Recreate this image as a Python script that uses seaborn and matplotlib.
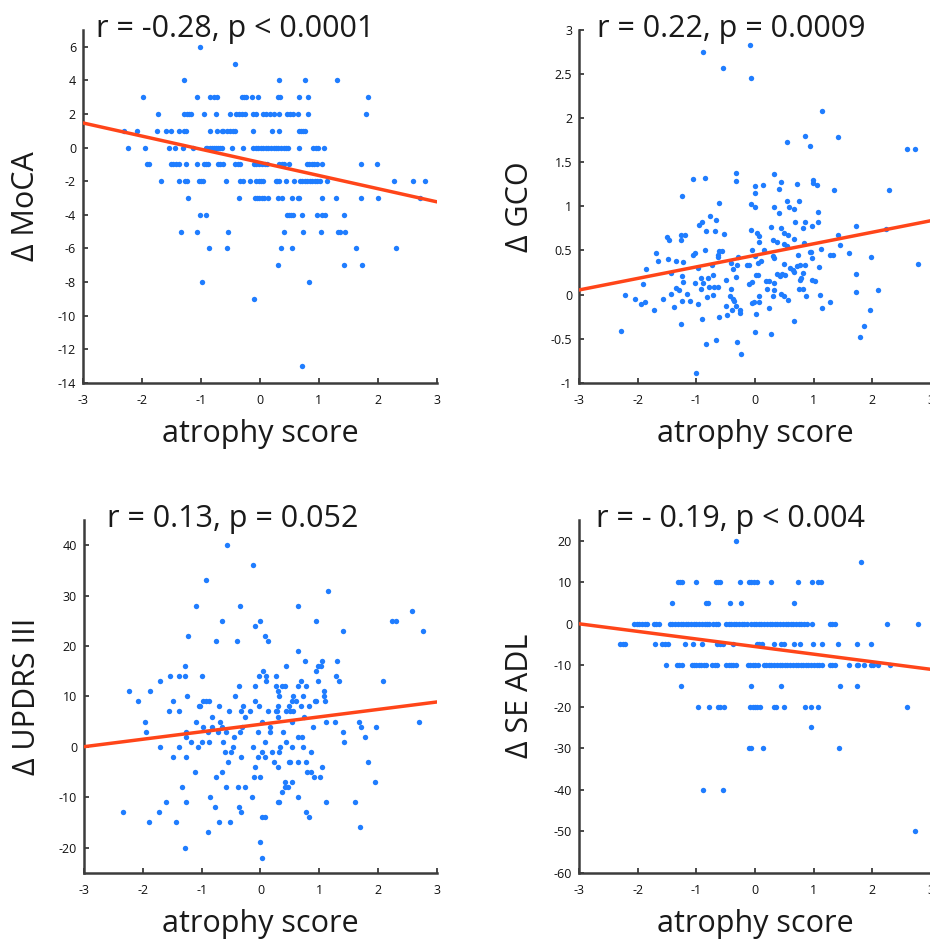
import numpy as np
import matplotlib
matplotlib.use("Agg")
import matplotlib.pyplot as plt
import seaborn as sns

# ---------------------------------------------------------------------------
# Data
# ---------------------------------------------------------------------------

# Delta MoCA: integer outcome, atrophy score per level
moca_levels = [6, 5, 4, 3, 2, 1, 0, -1, -2, -3, -4, -5, -6, -7, -8, -9, -13]
moca_x_by_level = [
    [-1.02],
    [-0.43],
    [-1.28, 0.32, 0.77, 1.31],
    [-1.98, -1.06, -0.84, -0.78, -0.73, -0.31, -0.27, -0.23, -0.13, -0.04,
     0.31, 0.34, 0.66, 0.81, 1.84],
    [-1.72, -1.29, -1.24, -1.20, -1.17, -0.94, -0.74, -0.51, -0.40, -0.35,
     -0.31, -0.25, -0.11, -0.06, 0.06, 0.11, 0.17, 0.23, 0.33, 0.46, 0.51,
     0.56, 0.64, 0.81, 1.79],
    [-2.31, -2.09, -1.74, -1.60, -1.50, -1.38, -1.29, -1.26, -0.85, -0.72,
     -0.64, -0.62, -0.56, -0.51, -0.45, -0.42, -0.11, 0.20, 0.33, 0.66, 0.69,
     0.73, 0.77],
    [-2.24, -1.94, -1.54, -1.44, -1.31, -1.14, -0.92, -0.89, -0.85, -0.82,
     -0.78, -0.75, -0.71, -0.67, -0.64, -0.47, -0.29, -0.11, -0.07, -0.03,
     0.01, 0.06, 0.10, 0.14, 0.18, 0.23, 0.27, 0.31, 0.36, 0.40, 0.44, 0.48,
     0.66, 0.90, 0.95, 0.99, 1.09],
    [-1.92, -1.88, -1.51, -1.47, -1.42, -1.38, -1.25, -1.07, -0.94, -0.91,
     -0.88, -0.71, -0.67, -0.63, -0.42, -0.38, -0.34, -0.10, -0.06, -0.01,
     0.03, 0.08, 0.12, 0.33, 0.37, 0.40, 0.49, 0.80, 0.84, 0.88, 0.92, 0.96,
     1.06, 1.71, 1.98],
    [-1.68, -1.37, -1.27, -1.24, -1.04, -1.00, -0.97, -0.57, -0.33, -0.29,
     -0.17, -0.06, -0.02, 0.02, 0.06, 0.27, 0.29, 0.33, 0.44, 0.58, 0.68,
     0.72, 0.76, 0.80, 0.85, 0.89, 0.93, 0.97, 1.02, 1.14, 2.27, 2.60, 2.79],
    [-1.22, -0.35, -0.08, -0.05, -0.01, 0.03, 0.07, 0.13, 0.31, 0.38, 0.55,
     0.65, 0.67, 1.06, 1.29, 1.71, 2.00, 2.72],
    [-1.01, -0.92, 0.46, 0.50, 0.53, 0.56, 0.72, 0.97, 1.05, 1.10, 1.42],
    [-1.33, -1.07, -0.54, 0.41, 0.73, 1.03, 1.32, 1.36, 1.44],
    [-0.87, -0.56, 0.36, 0.55, 1.62, 2.31],
    [0.31, 1.42, 1.73],
    [-0.98, 0.84],
    [-0.10],
    [0.72],
]
moca_fit = (-0.88, -0.783)   # intercept, slope of the drawn line

# Delta GCO: continuous outcome
gco_x = [
    -0.88, -0.55, -0.08, -0.07, 1.14, 0.85, 1.42, 0.54, 0.94, 2.59,
    2.72, -1.05, -0.85, -0.32, -0.33, 0.32, 0.45, 0.13, 0.00, 0.00,
    0.41, 0.72, 0.98, 0.98, 1.06, 1.35, 2.29, -1.25, 0.55,
    -0.62, -0.07, 0.00, 0.33, 0.58, 0.66, 0.41, 0.75, 1.07, -0.77,
    -0.66, 0.28, 0.68, 0.86, 1.07, 0.45, 0.81, 0.97, 1.72, -0.95,
    -0.90, -0.84, -0.69, -0.53, -0.07, 0.04, 0.07, 0.50, 0.56, 0.66,
    -1.50, -1.47, -1.26, -1.20, -1.26, 0.31, 0.38, 0.06, 0.84, 1.41,
    1.44, 2.24, 1.12, -0.85, -0.62, -0.57, -0.06, 0.15, 0.50, 0.54,
    0.93, 0.96, 1.60, -1.69, -1.06, -1.03, -0.63, -0.29, 0.00, 0.31,
    0.33, 0.73, 1.28, 1.33, 0.97, -1.65, -1.49, -1.34, -1.22, -0.63,
    0.10, 0.05, 0.49, 2.77, 1.98, -0.41, -0.30, -0.14, -0.11, -0.73,
    0.76, 0.85, 1.09, -1.86, -0.97, -0.38, 0.64, 0.59, 0.72, -1.43,
    -1.25, -0.72, -0.80, -0.92, 0.01, 0.05, 0.38, 0.42, 0.46, 0.51,
    0.66, 0.82, 1.72, -0.50, -0.32, 0.19, 0.24, 0.76, 0.79, 0.97,
    1.02, -1.91, -1.02, -0.88, -0.11, -0.06, -1.23, -0.79, -0.70, -0.63,
    -1.34, -1.30, -0.92, -0.41, 0.20, 0.33, 0.33, 0.75, 0.81, 1.72,
    2.09, -1.44, -1.16, -0.72, 0.06, 0.31, 0.45, 0.49, 0.87, 1.11,
    -2.21, -2.05, -1.56, -0.81, -0.42, -0.38, -0.35, 0.56, -1.95, -1.88,
    -1.24, -1.10, -1.38, -0.98, -0.49, -0.33, -0.06, -0.02, 0.07, 0.23,
    1.15, 1.28, -1.72, -0.40, -0.25, -0.25, -0.47, 0.02, 1.96, -0.61,
    -0.90, -1.27, 0.66, 1.85, -2.29, 0.00, 0.28, 1.79, -0.66, -0.31,
    -0.83, -0.24, -1.01,
]
gco_y = [
    2.75, 2.57, 2.83, 2.46, 2.08, 1.80, 1.79, 1.73, 1.69, 1.65,
    1.65, 1.31, 1.32, 1.38, 1.29, 1.37, 1.28, 1.24, 1.23, 1.15,
    1.20, 1.25, 1.30, 1.27, 1.24, 1.19, 1.19, 1.12, 1.06,
    1.04, 1.03, 0.99, 0.99, 0.99, 0.97, 0.92, 1.06, 0.94, 0.89,
    0.85, 0.77, 0.82, 0.82, 0.82, 0.75, 0.76, 0.78, 0.78, 0.79,
    0.82, 0.72, 0.72, 0.69, 0.73, 0.70, 0.66, 0.70, 0.68, 0.63,
    0.65, 0.62, 0.68, 0.68, 0.62, 0.62, 0.60, 0.60, 0.58, 0.67,
    0.56, 0.74, 0.52, 0.50, 0.49, 0.49, 0.51, 0.51, 0.57, 0.55,
    0.48, 0.48, 0.47, 0.47, 0.45, 0.47, 0.45, 0.43, 0.44, 0.44,
    0.42, 0.45, 0.45, 0.45, 0.41, 0.38, 0.40, 0.38, 0.37, 0.43,
    0.38, 0.36, 0.35, 0.35, 0.43, 0.36, 0.34, 0.34, 0.34, 0.34,
    0.34, 0.34, 0.31, 0.29, 0.30, 0.29, 0.28, 0.30, 0.32, 0.25,
    0.21, 0.22, 0.19, 0.19, 0.22, 0.22, 0.23, 0.21, 0.23, 0.22,
    0.26, 0.25, 0.23, 0.17, 0.20, 0.15, 0.15, 0.17, 0.19, 0.16,
    0.15, 0.12, 0.13, 0.13, 0.12, 0.14, 0.14, 0.09, 0.09, 0.09,
    0.08, 0.05, 0.06, 0.06, 0.06, 0.13, 0.05, 0.06, 0.06, 0.03,
    0.05, 0.01, 0.01, 0.00, -0.02, -0.02, 0.01, -0.02, -0.02, -0.01,
    -0.01, -0.05, -0.05, -0.03, -0.02, -0.05, -0.07, -0.06, -0.11, -0.09,
    -0.07, -0.07, -0.14, -0.11, -0.13, -0.13, -0.10, -0.09, -0.09, -0.15,
    -0.15, -0.09, -0.17, -0.17, -0.17, -0.21, -0.23, -0.22, -0.17, -0.25,
    -0.28, -0.33, -0.30, -0.36, -0.41, -0.43, -0.45, -0.48, -0.52, -0.54,
    -0.56, -0.67, -0.89,
]
gco_fit = (0.445, 0.131)

# Delta UPDRS III: integer outcome
updrs_levels = [40, 36, 33, 31, 28, 27, 25, 24, 23, 22, 21, 19, 17, 16, 15,
                14, 13, 12, 11, 10, 9, 8, 7, 6, 5, 4, 3, 2, 1, 0, -1, -2,
                -3, -4, -5, -6, -7, -8, -9, -10, -11, -12, -13, -14, -15,
                -16, -17, -19, -20, -22]
updrs_x_by_level = [
    [-0.57], [-0.12], [-0.92], [1.14],
    [-1.09, -0.34, 0.64],
    [2.58],
    [-0.66, -0.01, 0.95, 2.24, 2.30],
    [-0.10],
    [1.40, 2.77],
    [-1.23, 0.07],
    [-0.75, -0.40, 0.12],
    [0.64],
    [0.75, 1.04, 1.30],
    [-1.29, 0.43, 0.98, 1.03],
    [0.04, 0.95],
    [-1.53, -1.38, -1.29, -1.00, -0.03, 0.10, 0.26, 1.28],
    [-1.71, 0.10, 0.69, 0.97, 1.34, 2.08],
    [-0.37, -0.10, 0.26, 0.37, 0.41, 0.64, 0.77],
    [-2.24, -1.88, 0.29, 1.08],
    [-1.25, -0.44, 0.32, 0.55, 0.72, 1.08],
    [-2.08, -1.49, -0.97, -0.92, -0.87, -0.10, 0.54, 0.60, 0.92, 0.95, 1.10],
    [-1.05, -1.02, -0.70, -0.29, -0.03, 0.29, 0.48, 0.69, 0.82],
    [-1.55, -1.39, -0.53, -0.33, -0.18, 0.12, 0.26, 0.28, 0.43, 0.50, 0.55],
    [-0.82, -0.27, 0.30, 0.74],
    [-1.97, -1.09, -0.69, 0.02, 0.54, 1.11, 1.27, 1.68, 2.69],
    [-0.97, -0.82, -0.66, -0.31, 0.17, 0.90, 1.71, 1.97],
    [-1.95, -1.27, -0.90, -0.72, -0.58, -0.35, -0.05, 0.17, 0.38, 1.40],
    [-1.27, -0.45, 0.63, 0.70, 1.77],
    [-1.18, -0.99, -0.87, -0.64, 0.07, 0.43, 1.42],
    [-1.70, -1.38, -1.07, -0.46, -0.12, 0.33, 0.53, 0.72],
    [-0.61, -0.50, 0.02, 0.20, 0.32, 0.86],
    [-1.48, -1.27, -0.33, -0.05, 0.07],
    [-0.55, 0.23, 0.48, 0.50, 0.64, 0.78, 1.82],
    [-0.09, 0.30, 1.04],
    [-1.12, -0.66, 0.79, 0.85],
    [-0.76, -0.11, -0.01, 0.91, 1.01],
    [0.42, 0.54, 1.95],
    [-1.34, -0.59, -0.38, -0.27, 0.42, 0.46],
    [0.36],
    [-0.86, -0.14, 0.64],
    [-1.60, -1.27, 0.30, 0.32, 1.12, 1.61],
    [-0.78, -0.37],
    [-2.33, -1.73, -0.33, 0.78],
    [0.03, 0.07, 0.82],
    [-1.90, -1.44, -0.71, -0.52],
    [1.69],
    [-0.90],
    [-0.01],
    [-1.29],
    [0.03],
]
updrs_fit = (4.45, 1.48)

# Delta SE ADL: steps of 5
adl_levels = [20, 15, 10, 5, 0, -5, -10, -15, -20, -25, -30, -40, -50]
adl_x_by_level = [
    [-0.33],
    [1.80],
    [-1.32, -1.28, -1.25, -1.01, -0.67, -0.63, -0.60, -0.25, -0.11, -0.07,
     -0.02, 0.03, 0.28, 0.73, 0.97, 1.08, 1.12],
    [-1.42, -0.84, -0.80, -0.42, -0.24, 0.66],
    [-2.06, -2.01, -1.97, -1.92, -1.88, -1.84, -1.73, -1.68, -1.64, -1.45,
     -1.41, -1.36, -1.32, -1.27, -1.23, -1.18, -1.14, -1.09, -1.04, -1.00,
     -0.95, -0.91, -0.86, -0.82, -0.79, -0.72, -0.67, -0.63, -0.50, -0.45,
     -0.41, -0.36, -0.32, -0.27, -0.23, -0.18, -0.14, -0.07, -0.02, 0.02,
     0.07, 0.11, 0.16, 0.20, 0.25, 0.29, 0.34, 0.38, 0.43, 0.47, 0.52, 0.56,
     0.61, 0.65, 0.70, 0.75, 0.79, 0.84, 0.88, 0.97, 1.27, 1.31, 1.36, 2.25,
     2.78],
    [-2.30, -2.25, -2.21, -1.70, -1.59, -1.54, -1.49, -1.20, -1.05, -0.91,
     -0.64, -0.59, -0.55, -0.37, 0.03, 0.07, 0.12, 0.32, 0.44, 0.49, 0.66,
     0.76, 0.98, 1.14, 1.42, 1.73, 1.97],
    [-1.51, -1.33, -1.29, -1.24, -1.08, -1.04, -1.00, -0.96, -0.92, -0.87,
     -0.83, -0.73, -0.68, -0.64, -0.49, -0.45, -0.41, -0.37, -0.32, -0.12,
     -0.08, -0.04, 0.00, 0.05, 0.15, 0.19, 0.24, 0.28, 0.33, 0.37, 0.42,
     0.46, 0.51, 0.55, 0.60, 0.64, 0.69, 0.73, 0.78, 0.82, 0.87, 0.91, 0.96,
     1.00, 1.05, 1.09, 1.14, 1.27, 1.32, 1.37, 1.61, 1.73, 1.76, 1.86, 1.97,
     2.01, 2.09, 2.30],
    [-1.26, -0.07, 0.45, 1.45, 1.73],
    [-0.98, -0.78, -0.63, -0.59, -0.53, -0.08, -0.04, 0.00, 0.04, 0.08, 0.32,
     0.35, 0.50, 0.85, 0.96, 1.08, 2.59],
    [0.95],
    [-0.10, -0.07, 0.13, 1.43],
    [-0.88, -0.55],
    [2.73],
]
adl_fit = (-5.5, -1.83)

titles = ["r = -0.28, p < 0.0001", "r = 0.22, p = 0.0009",
          "r = 0.13, p = 0.052", "r = - 0.19, p < 0.004"]
ylabels = ["Δ MoCA", "Δ GCO", "Δ UPDRS III", "Δ SE ADL"]
xlabel = "atrophy score"

x_ticks = [-3, -2, -1, 0, 1, 2, 3]
moca_yticks = [-14, -12, -10, -8, -6, -4, -2, 0, 2, 4, 6]
gco_yticks = [-1, -0.5, 0, 0.5, 1, 1.5, 2, 2.5, 3]
gco_yticklabels = ["-1", "-0.5", "0", "0.5", "1", "1.5", "2", "2.5", "3"]
updrs_yticks = [-20, -10, 0, 10, 20, 30, 40]
adl_yticks = [-60, -50, -40, -30, -20, -10, 0, 10, 20]

_DOT = "#1f7dff"
_LINE = "#ff4519"
_AXIS = "#3c3c3c"


def _expand(levels, xs_by_level):
    xs, ys = [], []
    for lv, row in zip(levels, xs_by_level):
        xs += row
        ys += [lv] * len(row)
    return xs, ys


# ---------------------------------------------------------------------------
# Figure
# ---------------------------------------------------------------------------

sns.set_style("ticks")
plt.rcParams["font.family"] = ["Open Sans", "DejaVu Sans"]
plt.rcParams["axes.unicode_minus"] = False

fig = plt.figure(figsize=(9.30, 9.39), dpi=100)
positions = [
    [0.0892, 0.5924, 0.3806, 0.3756],
    [0.6226, 0.5924, 0.3785, 0.3756],
    [0.0903, 0.0706, 0.3796, 0.3756],
    [0.6226, 0.0706, 0.3785, 0.3756],
]
title_cx = [0.429, 0.432, 0.421, 0.430]
ylabel_x = [-0.119, -0.125, -0.119, -0.125]

moca_x, moca_y = _expand(moca_levels, moca_x_by_level)
updrs_x, updrs_y = _expand(updrs_levels, updrs_x_by_level)
adl_x, adl_y = _expand(adl_levels, adl_x_by_level)

panels = [
    (moca_x, moca_y, moca_fit, (-14, 7), moca_yticks, None),
    (gco_x, gco_y, gco_fit, (-1, 3), gco_yticks, gco_yticklabels),
    (updrs_x, updrs_y, updrs_fit, (-25, 45), updrs_yticks, None),
    (adl_x, adl_y, adl_fit, (-60, 25), adl_yticks, None),
]

for k, (xs, ys, fit, ylim, yticks, yticklabels) in enumerate(panels):
    ax = fig.add_axes(positions[k])
    sns.scatterplot(x=xs, y=ys, ax=ax, color=_DOT, s=15, linewidth=0,
                    zorder=2)
    line_x = np.array([-3.0, 3.0])
    ax.plot(line_x, fit[0] + fit[1] * line_x, color=_LINE, lw=2.5, zorder=3)

    ax.set_xlim(-3, 3)
    ax.set_ylim(*ylim)
    ax.set_xticks(x_ticks)
    ax.set_xticklabels([str(t) for t in x_ticks])
    ax.set_yticks(yticks)
    ax.set_yticklabels(yticklabels if yticklabels else [str(t) for t in yticks])

    sns.despine(ax=ax)
    for side in ("left", "bottom"):
        ax.spines[side].set_color(_AXIS)
        ax.spines[side].set_linewidth(1.8)
    ax.tick_params(direction="in", length=3.5, width=1.3, color=_AXIS,
                   labelsize=9, labelcolor="#111111")
    ax.tick_params(axis="x", pad=8)
    ax.tick_params(axis="y", pad=5)

    ax.set_xlabel(xlabel, fontsize=22, color="#1a1a1a")
    ax.xaxis.set_label_coords(0.5, -0.103)
    ax.set_ylabel(ylabels[k], fontsize=22, color="#1a1a1a")
    ax.yaxis.set_label_coords(ylabel_x[k], 0.5)

    ax.text(title_cx[k], 0.98, titles[k], transform=ax.transAxes,
            ha="center", va="baseline", fontsize=22, color="#1a1a1a",
            clip_on=False)

fig.savefig("out.png", dpi=100)
